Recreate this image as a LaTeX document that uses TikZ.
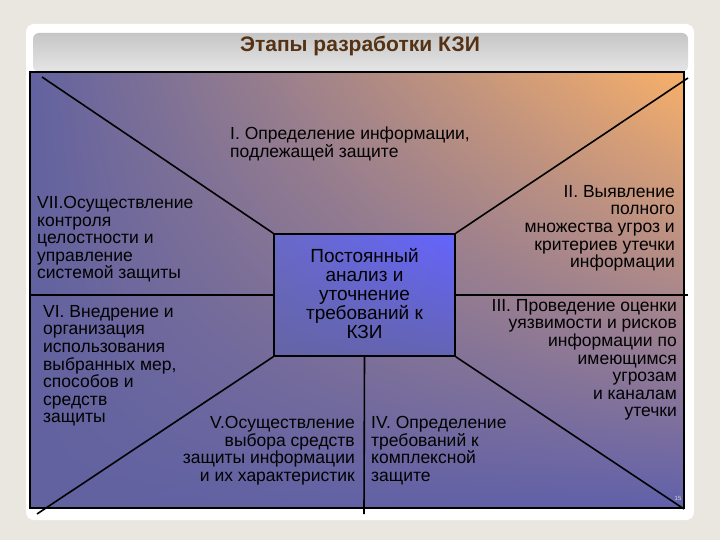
\documentclass[tikz,border=0pt]{standalone}
\usepackage{fontspec}
\setmainfont{Liberation Sans}
\usetikzlibrary{shadings}
\definecolor{bg}{RGB}{234,231,224}
\definecolor{orng}{RGB}{248,176,105}
\definecolor{slate}{RGB}{98,98,160}
\definecolor{slateb}{RGB}{96,96,170}
\definecolor{titlec}{RGB}{85,50,20}
\definecolor{sqa}{RGB}{100,100,255}
\definecolor{sqb}{RGB}{105,105,200}
\definecolor{sqc}{RGB}{100,100,165}
\definecolor{sqd}{RGB}{100,100,180}
\tikzset{lbl/.style={font=\fontsize{17.5}{17.6}\selectfont, inner sep=0pt, align=#1},
  ln/.style={line width=1.6pt, black}}
\begin{document}
\begin{tikzpicture}[x=1pt,y=-1pt]
\fill[bg] (0,0) rectangle (720,540);
\fill[white, rounded corners=8pt] (26,24) rectangle (694,520);
\shade[rounded corners=6pt, top color=gray!45, bottom color=gray!20] (33,33) rectangle (688,72);
\node[font=\bfseries\fontsize{21}{24}\selectfont, text=titlec] (title) at (360,46) {Этапы разработки КЗИ};
\shade[upper left=slate, upper right=orng, lower left=slate, lower right=slateb] (30,72) rectangle (684,508);
\draw[ln, line width=1.8pt] (30,72) rectangle (684,508);
\shade[upper right=sqa, upper left=sqb, lower left=sqc, lower right=sqd] (274,234) rectangle (455,356);
\node[draw, line width=1.6pt, inner sep=0pt, minimum width=181pt, minimum height=122pt] (c) at (364.5,295) {};
\node[font=\fontsize{19}{19}\selectfont, inner sep=0pt, align=center] (ct) at (364.5,294) {Постоянный\\анализ и\\уточнение\\требований к\\КЗИ};
\coordinate (p1) at (42,77); \coordinate (p2) at (688,78);
\coordinate (p3) at (30,295); \coordinate (p4) at (688,295);
\coordinate (p5) at (37,514); \coordinate (p6) at (364,514); \coordinate (p7) at (684,509);
\draw[ln] (p1) -- (c.north west);
\draw[ln] (p2) -- (c.north east);
\draw[ln] (p3) -- (c.west);
\draw[ln] (p4) -- (c.east);
\draw[ln] (p5) -- (c.south west);
\draw[ln] (p6) -- (c.south);
\draw[ln] (p7) -- (c.south east);
\node[lbl=left, anchor=north west] (t1) at (230,127) {I. Определение информации,\\подлежащей защите};
\node[lbl=right, anchor=north east] (t2) at (675,185) {II. Выявление\\полного\\множества угроз и\\критериев утечки\\информации};
\node[lbl=right, anchor=north east] (t3) at (677,299) {III. Проведение оценки\\уязвимости и рисков\\информации по\\имеющимся\\угрозам\\и каналам\\утечки};
\node[lbl=left, anchor=north west] (t4) at (371,416) {IV. Определение\\требований к\\комплексной\\защите};
\node[lbl=right, anchor=north east] (t5) at (355,416) {V.Осуществление\\выбора средств\\защиты информации\\и их характеристик};
\node[lbl=left, anchor=north west] (t6) at (43,305) {VI. Внедрение и\\организация\\использования\\выбранных мер,\\способов и\\средств\\защиты};
\node[lbl=left, anchor=north west] (t7) at (37,196) {VII.Осуществление\\контроля\\целостности и\\управление\\системой защиты};
\node[font=\fontsize{6}{7}\selectfont, text=gray!30] (pg) at (678,498) {15};
\end{tikzpicture}
\end{document}
